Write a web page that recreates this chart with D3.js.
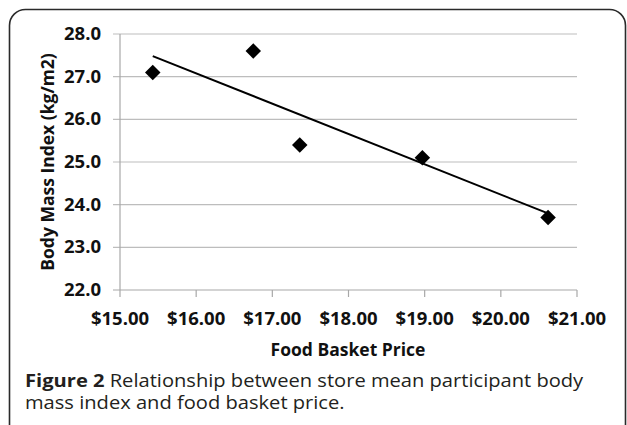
<!DOCTYPE html>
<html>
<head>
<meta charset="utf-8">
<script src="https://cdn.jsdelivr.net/npm/d3@7"></script>
<style>
  html, body { margin: 0; padding: 0; background: #fff; }
  svg { display: block; }
</style>
</head>
<body>
<div id="chart"></div>
<script>
// store food basket price vs mean participant BMI
const prices = [15.43, 16.75, 17.36, 18.97, 20.62];
const bmi = [27.1, 27.6, 25.4, 25.1, 23.7];
const xTicks = [15, 16, 17, 18, 19, 20, 21];
const yTicks = [22, 23, 24, 25, 26, 27, 28];
const captionBold = 'Figure 2';
const captionLine1 = ' Relationship between store mean participant body';
const captionLine2 = 'mass index and food basket price.';

const width = 627;
const height = 425;
const margin = { top: 34, right: 50, bottom: 135, left: 120 };

const svg = d3.select('#chart').append('svg')
  .attr('width', width)
  .attr('height', height);

// frame round the figure
svg.append('rect')
  .attr('x', 9.5).attr('y', 9.5)
  .attr('width', 616).attr('height', 500)
  .attr('rx', 16)
  .style('fill', 'none')
  .style('stroke', '#2a2a2a')
  .style('stroke-width', 1.6);

const x = d3.scaleLinear().domain([15, 21]).range([margin.left, width - margin.right]);
const y = d3.scaleLinear().domain([22, 28]).range([height - margin.bottom, margin.top]);

const font = '"Open Sans", sans-serif';

// gridlines
svg.append('g')
  .selectAll('line').data(yTicks).enter()
  .append('line')
  .attr('x1', x(15) - 7).attr('x2', x(21))
  .attr('y1', d => y(d)).attr('y2', d => y(d))
  .style('stroke', d => d === 22 ? '#a8a8a8' : '#bdbdbd')
  .style('stroke-width', 1.2);

// y axis line
svg.append('line')
  .attr('x1', x(15)).attr('x2', x(15))
  .attr('y1', y(28)).attr('y2', y(22))
  .style('stroke', '#a8a8a8').style('stroke-width', 1.2);

// x tick marks
svg.append('g')
  .selectAll('line').data(xTicks).enter()
  .append('line')
  .attr('x1', d => x(d)).attr('x2', d => x(d))
  .attr('y1', y(22)).attr('y2', y(22) + 7)
  .style('stroke', '#a8a8a8').style('stroke-width', 1.2);

// tick labels
svg.append('g')
  .selectAll('text').data(yTicks).enter()
  .append('text')
  .attr('x', 101).attr('y', d => y(d) + 6)
  .attr('text-anchor', 'end')
  .style('font-family', font).style('font-weight', 'bold').style('font-size', '18.5px')
  .style('fill', '#111')
  .text(d => d3.format('.1f')(d));

svg.append('g')
  .selectAll('text').data(xTicks).enter()
  .append('text')
  .attr('x', d => x(d)).attr('y', 325)
  .attr('text-anchor', 'middle')
  .style('font-family', font).style('font-weight', 'bold').style('font-size', '18.5px')
  .style('fill', '#111')
  .text(d => d3.format('$.2f')(d));

// axis titles
svg.append('text')
  .attr('x', 348).attr('y', 356)
  .attr('text-anchor', 'middle')
  .style('font-family', font).style('font-weight', 'bold').style('font-size', '17.5px')
  .style('fill', '#111')
  .text('Food Basket Price');

svg.append('text')
  .attr('transform', `translate(54,${(y(22) + y(28)) / 2}) rotate(-90)`)
  .attr('text-anchor', 'middle')
  .style('font-family', font).style('font-weight', 'bold').style('font-size', '17.5px')
  .style('fill', '#111')
  .text('Body Mass Index (kg/m2)');

// least-squares trendline through the points
const mx = d3.mean(prices);
const my = d3.mean(bmi);
const slope = d3.sum(prices, (p, i) => (p - mx) * (bmi[i] - my)) /
  d3.sum(prices, p => (p - mx) * (p - mx));
const fit = p => my + slope * (p - mx);
const xExt = d3.extent(prices);

svg.append('line')
  .attr('x1', x(xExt[0])).attr('y1', y(fit(xExt[0])))
  .attr('x2', x(xExt[1])).attr('y2', y(fit(xExt[1])))
  .style('stroke', '#000').style('stroke-width', 2);

// diamond markers
const diamond = d3.symbol().type(d3.symbolSquare).size(120);
svg.append('g')
  .selectAll('path').data(prices).enter()
  .append('path')
  .attr('d', diamond)
  .attr('transform', (d, i) => `translate(${x(d)},${y(bmi[i])}) rotate(45)`)
  .style('fill', '#000');

// caption (the source figure's type is set wide, so stretch it a little)
const capG = svg.append('g')
  .attr('transform', 'translate(25,0) scale(1.15,1)')
  .style('font-family', font).style('font-size', '17.5px')
  .style('fill', '#231f20');

const cap = capG.append('text').attr('x', 0).attr('y', 387);
cap.append('tspan').style('font-weight', 'bold').text(captionBold);
cap.append('tspan').text(captionLine1);

capG.append('text')
  .attr('x', 0).attr('y', 409)
  .text(captionLine2);
</script>
</body>
</html>
